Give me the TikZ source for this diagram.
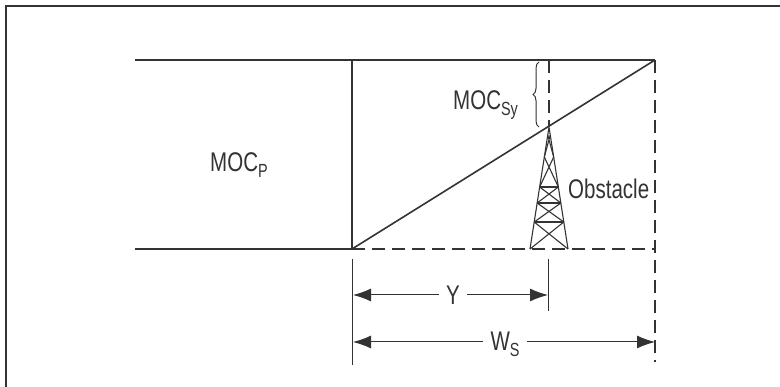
\documentclass[tikz,border=0pt]{standalone}
\usepackage{fontspec}
\setmainfont{Liberation Sans}[FakeStretch=0.76]
\usetikzlibrary{arrows.meta, decorations.pathreplacing, positioning}
\definecolor{ink}{HTML}{333333}
\newcommand{\lowsub}[1]{\raisebox{-6pt}{\fontsize{19}{21}\selectfont #1}}

\begin{document}
\begin{tikzpicture}[x=1pt, y=-1pt,
    solid line/.style={draw=ink, line width=1.6pt},
    dash line/.style={draw=ink, line width=2pt, dash pattern=on 13pt off 7pt},
    tick line/.style={draw=ink, line width=1pt},
    dim arrow/.style={draw=ink, line width=1pt, -{Latex[length=18pt, width=13pt]}},
    lbl/.style={text=ink, font=\fontsize{27}{31}\selectfont, inner sep=0pt},
    dim lbl/.style={lbl, inner xsep=7pt}]

    \useasboundingbox (0,0) rectangle (780,387);
    \draw[ink, line width=2pt] (780,6) -- (6,6) -- (6,387);

    % main outline
    \coordinate (topL) at (135,60);
    \coordinate (topM) at (352,60);
    \coordinate (topR) at (655,60);
    \coordinate (botL) at (135,249);
    \coordinate (start) at (352,249);
    \coordinate (botR) at (655,249);
    \coordinate (obsTop) at (549,60);
    \coordinate (peak) at (549,127);
    \coordinate (wsEnd) at (655,362);

    \draw[solid line] (topL) -- (topR);
    \draw[solid line] (topM) -- (start);
    \draw[solid line] (botL) -- (start);
    \draw[solid line] (start) -- (topR);
    \draw[dash line] (start) -- (botR);
    \draw[dash line] (topR) -- (wsEnd);
    \draw[dash line] (obsTop) -- (peak);

    % tower
    \draw[ink, line width=1.1pt] (530,249) -- (peak) -- (568,249);
    \foreach \a/\b in {135/157, 157/187, 187/203, 203/222, 222/249}
        \draw[ink, line width=1.1pt]
            ({549-19*(\a-127)/122},\a) -- ({549+19*(\b-127)/122},\b)
            ({549+19*(\a-127)/122},\a) -- ({549-19*(\b-127)/122},\b);
    \foreach \h in {187, 203, 222}
        \draw[ink, line width=1.1pt]
            ({549-19*(\h-127)/122},\h) -- ({549+19*(\h-127)/122},\h);

    % clearance brace
    \draw[ink, line width=1pt, decorate,
          decoration={brace, amplitude=6pt}] (539,127) -- (539,62);

    % labels
    \node[lbl, anchor=base west] (mocp) at (210,172) {MOC\lowsub{P}};
    \node[lbl, anchor=base west] (mocsy) at (453,110) {MOC\lowsub{Sy}};
    \node[lbl, anchor=base west] (obst) at (568,199) {Obstacle};

    % dimensions
    \coordinate (yTickL) at (352,259);
    \coordinate (yTickLb) at (352,365);
    \coordinate (yTickR) at (548,259);
    \coordinate (yTickRb) at (548,311);
    \draw[tick line] (yTickL) -- (yTickLb);
    \draw[tick line] (yTickR) -- (yTickRb);

    \node[dim lbl] (ylab) at (453,295) {Y};
    \coordinate (yL) at (353,295);
    \coordinate (yR) at (548,295);
    \draw[dim arrow] (ylab) -- (yL);
    \draw[dim arrow] (ylab) -- (yR);

    \node[dim lbl, anchor=base] (wslab) at (505,351) {W\lowsub{S}};
    \coordinate (wsL) at (353,342);
    \coordinate (wsR) at (655,342);
    \draw[dim arrow] (wslab.west |- wsL) -- (wsL);
    \draw[dim arrow] (wslab.east |- wsR) -- (wsR);
\end{tikzpicture}
\end{document}
